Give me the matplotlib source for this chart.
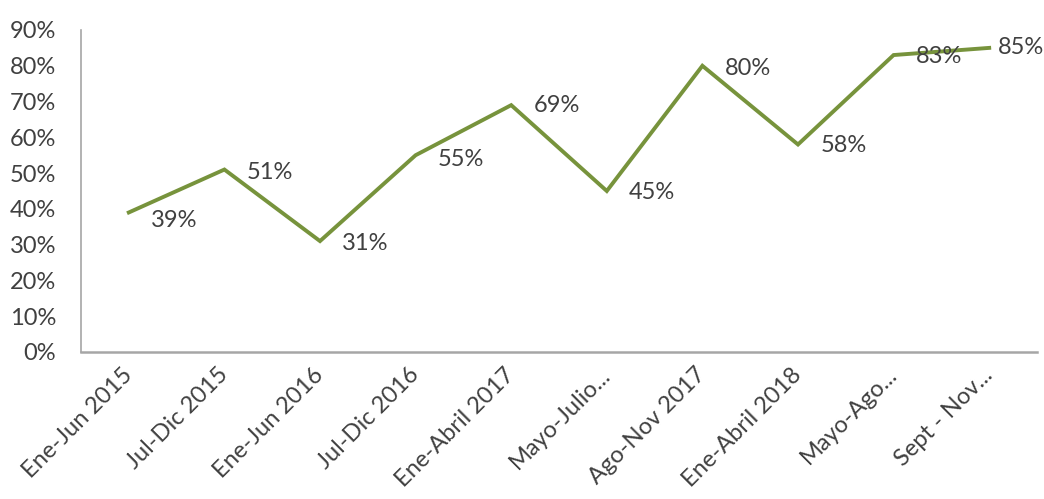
import matplotlib
matplotlib.use("Agg")
import matplotlib.pyplot as plt
from matplotlib.ticker import FuncFormatter

categories = ["Ene-Jun 2015", "Jul-Dic 2015", "Ene-Jun 2016", "Jul-Dic 2016",
              "Ene-Abril 2017", "Mayo-Julio...", "Ago-Nov 2017", "Ene-Abril 2018",
              "Mayo-Ago...", "Sept - Nov..."]
values = [0.39, 0.51, 0.31, 0.55, 0.69, 0.45, 0.80, 0.58, 0.83, 0.85]
# label offsets in points (right, down)
label_offsets = [(16, -6), (16, -2), (16, -2), (16, -3), (16, 0), (16, -1), (16, -2), (16, -1), (16, -1), (6, 0)]

plt.rcParams['font.family'] = ['Lato', 'DejaVu Sans']
W, H = 1044, 499
fig = plt.figure(figsize=(W/100, H/100), dpi=100)
ax = fig.add_axes([81/W, 1-352/H, 956/W, 322/H])

x = list(range(len(categories)))
ax.plot(x, values, color="#77933C", lw=2.8, solid_joinstyle="miter")
for xi, v, off in zip(x, values, label_offsets):
    ax.annotate(f"{round(v*100)}%", (xi, v), xytext=off, textcoords="offset points",
                ha="left", va="center", fontsize=17, color="#404040")

ax.set_xlim(-0.5, len(categories) - 0.5)
ax.set_ylim(0, 0.9)
ax.set_yticks([i/10 for i in range(10)])
ax.yaxis.set_major_formatter(FuncFormatter(lambda v, p: f"{round(v*100)}%"))
ax.set_xticks(x)
ax.set_xticklabels(categories, rotation=45, ha="right", va="center", rotation_mode="anchor")
ax.tick_params(axis="both", length=0, labelsize=17, labelcolor="#404040")
ax.tick_params(axis="y", pad=18)
ax.tick_params(axis="x", pad=14)
for s in ["top", "right"]:
    ax.spines[s].set_visible(False)
ax.spines["left"].set_color("#A6A6A6")
ax.spines["bottom"].set_color("#A6A6A6")
ax.spines["left"].set_linewidth(1.2)
ax.spines["bottom"].set_linewidth(1.8)
fig.savefig("out.png", dpi=100, facecolor="white")
